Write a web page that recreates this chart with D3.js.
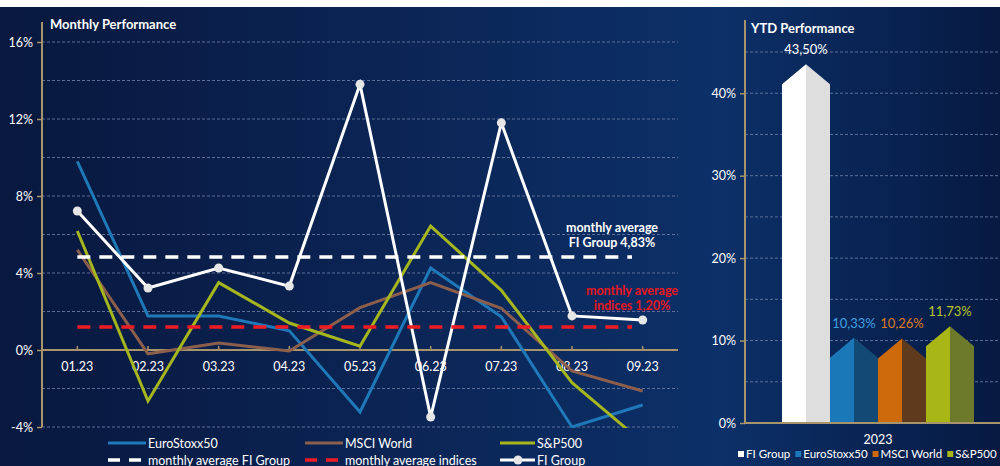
<!DOCTYPE html>
<html>
<head>
<meta charset="utf-8">
<script src="https://cdn.jsdelivr.net/npm/d3@7"></script>
<style>
  body { margin: 0; background: #ffffff; }
  svg { display: block; font-family: Lato, 'Open Sans', sans-serif; }
</style>
</head>
<body>
<svg id="chart" width="1000" height="466"></svg>
<script>
// Monthly performance (%)
const months = ["01.23", "02.23", "03.23", "04.23", "05.23", "06.23", "07.23", "08.23", "09.23"];
const fiGroup = [7.22, 3.22, 4.26, 3.32, 13.8, -3.48, 11.8, 1.77, 1.56];
const euroStoxx = [9.8, 1.77, 1.77, 1.0, -3.22, 4.26, 1.73, -4.0, -2.86];
const msciWorld = [5.2, -0.2, 0.36, -0.05, 2.2, 3.5, 2.17, -1.09, -2.13];
const sp500 = [6.18, -2.65, 3.5, 1.4, 0.2, 6.44, 3.1, -1.7, -4.8];
const avgFiGroup = 4.83;
const avgIndices = 1.20;
const monthlyTicks = [-4, 0, 4, 8, 12, 16];
const monthlyGrid = [-4, -2, 0, 2, 4, 6, 8, 10, 12, 14, 16];

// YTD performance (%)
const ytdNames = ["FI Group", "EuroStoxx50", "MSCI World", "S&P500"];
const ytdValues = [43.50, 10.33, 10.26, 11.73];
const ytdLabels = ["43,50%", "10,33%", "10,26%", "11,73%"];
const ytdTicks = [0, 10, 20, 30, 40];
const ytdGrid = [0, 5, 10, 15, 20, 25, 30, 35, 40, 45];

const axisColor = "#a8946a";
const gridColor = "#5b6f98";

var svg = d3.select("#chart");

// background
var defs = svg.append("defs");
var bg = defs.append("linearGradient").attr("id", "bg")
    .attr("x1", "0").attr("x2", "1").attr("y1", "0").attr("y2", "0");
bg.append("stop").attr("offset", "0").attr("stop-color", "#08183e");
bg.append("stop").attr("offset", "0.35").attr("stop-color", "#0b2352");
bg.append("stop").attr("offset", "0.72").attr("stop-color", "#0c3068");
bg.append("stop").attr("offset", "1").attr("stop-color", "#061a42");
svg.append("rect").attr("x", 0).attr("y", 7).attr("width", 1000).attr("height", 459)
    .attr("fill", "url(#bg)");

defs.append("clipPath").attr("id", "plotClip")
    .append("rect").attr("x", 42).attr("y", 10).attr("width", 640).attr("height", 418);

// ---------- Monthly chart ----------
var x = d3.scaleBand().domain(months).range([42, 678]);
var y = d3.scaleLinear().domain([-4, 16]).range([427, 42]);
var cx = d => x(d) + x.bandwidth() / 2;

svg.append("g").selectAll("line").data(monthlyGrid).join("line")
    .attr("x1", 42).attr("x2", 678)
    .attr("y1", d => y(d)).attr("y2", d => y(d))
    .attr("stroke", gridColor).attr("stroke-width", 1)
    .attr("stroke-dasharray", "3,2");

// y axis
var yAxis = svg.append("g").attr("transform", "translate(42,0)")
    .call(d3.axisLeft(y).tickValues(monthlyTicks).tickSize(5).tickFormat(d => d + "%"));
yAxis.select(".domain").remove();
yAxis.selectAll(".tick line").attr("stroke", axisColor).attr("stroke-width", 1.5);
yAxis.selectAll(".tick text").attr("fill", "#ffffff").attr("font-size", 12.5)
    .attr("font-family", "Lato, sans-serif").attr("x", -9);
svg.append("line").attr("x1", 42).attr("x2", 42).attr("y1", 22).attr("y2", 427)
    .attr("stroke", axisColor).attr("stroke-width", 2);

// zero baseline with month labels
svg.append("line").attr("x1", 42).attr("x2", 678).attr("y1", y(0)).attr("y2", y(0))
    .attr("stroke", axisColor).attr("stroke-width", 2);
svg.append("g").selectAll("line").data(months).join("line")
    .attr("x1", cx).attr("x2", cx).attr("y1", y(0)).attr("y2", y(0) - 4)
    .attr("stroke", axisColor).attr("stroke-width", 1.5);
svg.append("g").selectAll("text").data(months).join("text")
    .attr("x", cx).attr("y", y(0) + 21)
    .attr("text-anchor", "middle").attr("fill", "#ffffff").attr("font-size", 12.5)
    .text(d => d);

svg.append("text").attr("x", 50).attr("y", 29)
    .attr("fill", "#ffffff").attr("font-size", 13).attr("font-weight", "bold")
    .text("Monthly Performance");

var line = d3.line().x((d, i) => cx(months[i])).y(d => y(d));
var plot = svg.append("g").attr("clip-path", "url(#plotClip)");

plot.append("path").datum(euroStoxx).attr("d", line)
    .attr("fill", "none").attr("stroke", "#1f78b8").attr("stroke-width", 3);
plot.append("path").datum(msciWorld).attr("d", line)
    .attr("fill", "none").attr("stroke", "#8c5e4c").attr("stroke-width", 3);
plot.append("path").datum(sp500).attr("d", line)
    .attr("fill", "none").attr("stroke", "#a6b61e").attr("stroke-width", 3);

// average lines
svg.append("line").attr("x1", cx(months[0])).attr("x2", 632)
    .attr("y1", y(avgIndices)).attr("y2", y(avgIndices))
    .attr("stroke", "#ee1c25").attr("stroke-width", 3.5).attr("stroke-dasharray", "13,9");
svg.append("line").attr("x1", cx(months[0])).attr("x2", 632)
    .attr("y1", y(avgFiGroup)).attr("y2", y(avgFiGroup))
    .attr("stroke", "#ffffff").attr("stroke-width", 3.5).attr("stroke-dasharray", "13,9");

plot.append("path").datum(fiGroup).attr("d", line)
    .attr("fill", "none").attr("stroke", "#ffffff").attr("stroke-width", 3);
svg.append("g").selectAll("circle").data(fiGroup).join("circle")
    .attr("cx", (d, i) => cx(months[i])).attr("cy", d => y(d)).attr("r", 4.5)
    .attr("fill", "#e6e6e6");

// annotations
svg.append("text").attr("x", 612).attr("y", 232).attr("text-anchor", "middle")
    .attr("fill", "#ffffff").attr("font-size", 12.5).attr("font-weight", "bold")
    .text("monthly average");
svg.append("text").attr("x", 612).attr("y", 247).attr("text-anchor", "middle")
    .attr("fill", "#ffffff").attr("font-size", 12.5).attr("font-weight", "bold")
    .text("FI Group " + d3.format(".2f")(avgFiGroup).replace(".", ",") + "%");
svg.append("text").attr("x", 632).attr("y", 295).attr("text-anchor", "middle")
    .attr("fill", "#e8161f").attr("font-size", 12.5).attr("font-weight", "bold")
    .text("monthly average");
svg.append("text").attr("x", 632).attr("y", 310).attr("text-anchor", "middle")
    .attr("fill", "#e8161f").attr("font-size", 12.5).attr("font-weight", "bold")
    .text("indices " + d3.format(".2f")(avgIndices).replace(".", ",") + "%");

// legend
var legendItems = [
    { name: "EuroStoxx50", color: "#1f78b8", dash: null, x: 108, y: 443 },
    { name: "MSCI World", color: "#8c5e4c", dash: null, x: 305, y: 443 },
    { name: "S&P500", color: "#a6b61e", dash: null, x: 500, y: 443 },
    { name: "monthly average FI Group", color: "#ffffff", dash: "12,9", x: 108, y: 460 },
    { name: "monthly average indices", color: "#ee1c25", dash: "12,9", x: 305, y: 460 },
    { name: "FI Group", color: "#ffffff", dash: null, x: 500, y: 460, marker: true }
];
var leg = svg.append("g").selectAll("g").data(legendItems).join("g")
    .attr("transform", d => "translate(" + d.x + "," + d.y + ")");
leg.append("line").attr("x1", 0).attr("x2", d => d.x === 500 ? 35 : 38)
    .attr("y1", 0).attr("y2", 0)
    .attr("stroke", d => d.color).attr("stroke-width", d => d.dash ? 3.5 : 3)
    .attr("stroke-dasharray", d => d.dash);
leg.filter(d => d.marker).append("circle").attr("cx", 18).attr("cy", 0).attr("r", 4.5)
    .attr("fill", "#e6e6e6");
leg.append("text").attr("x", d => d.x === 500 ? 37 : 40).attr("y", 4.5)
    .attr("fill", "#ffffff").attr("font-size", 12.5).text(d => d.name);

// ---------- YTD chart ----------
var x2 = d3.scaleBand().domain(ytdNames).range([782, 974]);
var y2 = d3.scaleLinear().domain([0, 45]).range([423, 52]);
var faceColors = [["#ffffff", "#dedede"], ["#1b78b8", "#124a75"], ["#cc6a0c", "#5f3a1c"], ["#a9b716", "#6d7a2c"]];
var labelColors = ["#ffffff", "#3fa0e0", "#dd7a22", "#b9c62a"];
const shoulder = 20;

svg.append("g").selectAll("line").data(ytdGrid).join("line")
    .attr("x1", 745).attr("x2", 1000)
    .attr("y1", d => y2(d)).attr("y2", d => y2(d))
    .attr("stroke", gridColor).attr("stroke-width", 1)
    .attr("stroke-dasharray", "3,2");

var y2Axis = svg.append("g").attr("transform", "translate(745,0)")
    .call(d3.axisLeft(y2).tickValues(ytdTicks).tickSize(5).tickFormat(d => d + "%"));
y2Axis.select(".domain").remove();
y2Axis.selectAll(".tick line").attr("stroke", axisColor).attr("stroke-width", 1.5);
y2Axis.selectAll(".tick text").attr("fill", "#ffffff").attr("font-size", 12.5)
    .attr("font-family", "Lato, sans-serif").attr("x", -9);
svg.append("line").attr("x1", 745).attr("x2", 745).attr("y1", 20).attr("y2", 423)
    .attr("stroke", axisColor).attr("stroke-width", 2);

svg.append("text").attr("x", 751).attr("y", 33)
    .attr("fill", "#ffffff").attr("font-size", 13).attr("font-weight", "bold")
    .text("YTD Performance");

var bars = svg.append("g").selectAll("g").data(ytdValues).join("g");
bars.append("path").attr("fill", (d, i) => faceColors[i][0])
    .attr("d", (d, i) => {
        var x0 = x2(ytdNames[i]), xc = x0 + x2.bandwidth() / 2;
        return "M" + x0 + "," + y2(0) + "L" + x0 + "," + (y2(d) + shoulder) +
            "L" + xc + "," + y2(d) + "L" + xc + "," + y2(0) + "Z";
    });
bars.append("path").attr("fill", (d, i) => faceColors[i][1])
    .attr("d", (d, i) => {
        var x0 = x2(ytdNames[i]), xc = x0 + x2.bandwidth() / 2, x1 = x0 + x2.bandwidth();
        return "M" + xc + "," + y2(0) + "L" + xc + "," + y2(d) +
            "L" + x1 + "," + (y2(d) + shoulder) + "L" + x1 + "," + y2(0) + "Z";
    });
bars.append("text")
    .attr("x", (d, i) => x2(ytdNames[i]) + x2.bandwidth() / 2)
    .attr("y", d => y2(d) - 10)
    .attr("text-anchor", "middle").attr("font-size", 13)
    .attr("fill", (d, i) => labelColors[i])
    .text((d, i) => ytdLabels[i]);

svg.append("line").attr("x1", 745).attr("x2", 1000).attr("y1", y2(0)).attr("y2", y2(0))
    .attr("stroke", axisColor).attr("stroke-width", 2);
svg.append("text").attr("x", 878).attr("y", 444).attr("text-anchor", "middle")
    .attr("fill", "#ffffff").attr("font-size", 12.5).text("2023");

// YTD legend
var lx = 738;
ytdNames.forEach(function (name, i) {
    var g = svg.append("g").attr("transform", "translate(" + lx + ",458)");
    g.append("rect").attr("x", 0).attr("y", -7).attr("width", 6).attr("height", 6)
        .attr("fill", faceColors[i][0]);
    var t = g.append("text").attr("x", 8).attr("y", 0)
        .attr("fill", "#ffffff").attr("font-size", 11.5).text(name);
    lx += 8 + t.node().getComputedTextLength() + 5;
});
</script>
</body>
</html>
